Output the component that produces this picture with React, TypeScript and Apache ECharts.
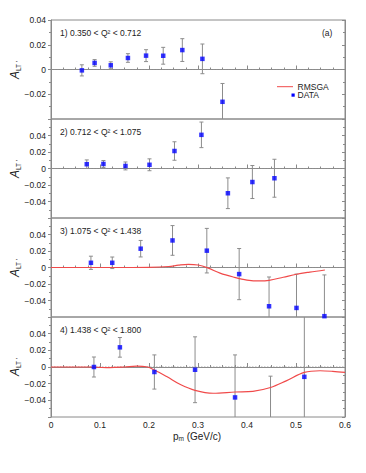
import React, { useEffect, useRef } from "react";
import * as echarts from "echarts";

// Panel 1: 0.350 < Q2 < 0.712
const p1x = [0.063, 0.089, 0.122, 0.157, 0.194, 0.229, 0.268, 0.309, 0.35];
const p1y = [-0.0007, 0.0053, 0.0034, 0.0093, 0.0112, 0.0111, 0.0157, 0.0086, -0.0261];
const p1e = [0.0045, 0.0027, 0.0028, 0.0035, 0.0048, 0.0068, 0.0092, 0.012, 0.0148];

// Panel 2: 0.712 < Q2 < 1.075
const p2x = [0.073, 0.107, 0.152, 0.201, 0.252, 0.307, 0.361, 0.411, 0.456];
const p2y = [0.0052, 0.0055, 0.0031, 0.0045, 0.0212, 0.0408, -0.03, -0.0164, -0.0118];
const p2e = [0.0052, 0.0042, 0.0048, 0.0072, 0.0112, 0.0155, 0.0186, 0.02, 0.023];

// Panel 3: 1.075 < Q2 < 1.438
const p3x = [0.0815, 0.125, 0.183, 0.248, 0.318, 0.384, 0.445, 0.501, 0.558];
const p3y = [0.0057, 0.0057, 0.0228, 0.0328, 0.0204, -0.008, -0.047, -0.049, -0.059];
const p3e = [0.008, 0.007, 0.01, 0.018, 0.027, 0.031, 0.0355, 0.041, 0.05];

// Panel 4: 1.438 < Q2 < 1.800
const p4x = [0.0876, 0.1406, 0.211, 0.294, 0.3756, 0.448, 0.517];
const p4y = [0.0, 0.0236, -0.006, -0.0033, -0.0365, -0.076, -0.0118];
const p4e = [0.012, 0.0118, 0.0205, 0.0395, 0.051, 0.065, 0.08];

// RMSGA curves
const c3x = [0, 0.05, 0.1, 0.15, 0.2, 0.24, 0.26, 0.28, 0.3, 0.32, 0.345, 0.372, 0.4, 0.427, 0.445, 0.474, 0.501, 0.528, 0.559];
const c3y = [0, 0, 0, 0, 0.0002, 0.0012, 0.0028, 0.0038, 0.003, -0.0005, -0.0068, -0.0115, -0.0152, -0.0163, -0.0155, -0.0118, -0.0082, -0.0056, -0.003];
const c4x = [0, 0.05, 0.08, 0.1, 0.12, 0.15, 0.175, 0.195, 0.211, 0.237, 0.264, 0.294, 0.331, 0.376, 0.412, 0.448, 0.48, 0.517, 0.549, 0.575, 0.6];
const c4y = [0, 0, 0, -0.0005, -0.0008, 0, 0.001, 0.0003, -0.0036, -0.0118, -0.021, -0.028, -0.0315, -0.03, -0.0292, -0.0246, -0.0166, -0.0065, -0.0045, -0.0052, -0.0065];

// zero reference line
const zeroX = [0, 0.6];
const zeroY = [0, 0];

const panelLabels = ["1) 0.350 < Q² < 0.712", "2) 0.712 < Q² < 1.075", "3) 1.075 < Q² < 1.438", "4) 1.438 < Q² < 1.800"];
const xTitle = "p";
const xTitleSub = "m";
const xTitleRest = " (GeV/c)";

const FONT = "Liberation Sans, Arial, Helvetica, sans-serif";
const AXIS = "#8a8a8a";
const TXT = "#222";

export default function App() {
  const ref = useRef<HTMLDivElement>(null);
  useEffect(() => {
    if (!ref.current) return;
    const chart = echarts.init(ref.current, null, { renderer: "svg" });
    const panels = [
      { x: p1x, y: p1y, e: p1e, ymin: -0.04, ymax: 0.04, cx: null as any, cy: null as any },
      { x: p2x, y: p2y, e: p2e, ymin: -0.06, ymax: 0.06, cx: null, cy: null },
      { x: p3x, y: p3y, e: p3e, ymin: -0.06, ymax: 0.06, cx: c3x, cy: c3y },
      { x: p4x, y: p4y, e: p4e, ymin: -0.06, ymax: 0.06, cx: c4x, cy: c4y },
    ];
    const tops = [20, 119, 218, 317];
    const H = 99;
    const grids: any[] = [];
    const xAxes: any[] = [];
    const yAxes: any[] = [];
    const series: any[] = [];
    const graphics: any[] = [];
    const yfmt = (v: number) => (Math.abs(v) < 1e-9 ? "0" : (v < 0 ? "\u2212" : "") + Math.abs(v).toFixed(2));
    panels.forEach((p, i) => {
      grids.push({ left: 51, width: 294, top: tops[i], height: i === 3 ? 100 : H, show: true, borderColor: AXIS, borderWidth: 1, containLabel: false });
      xAxes.push({
        type: "value", gridIndex: i, min: 0, max: 0.6, interval: 0.1,
        axisLine: { show: true, lineStyle: { color: AXIS } },
        axisTick: { show: true, inside: true, length: 4, lineStyle: { color: AXIS } },
        minorTick: { show: true, splitNumber: 4, length: 2, lineStyle: { color: AXIS } },
        splitLine: { show: false },
        axisLabel: { show: i === 3, margin: 3, fontSize: 8.5, color: TXT, fontFamily: FONT, formatter: (v: number) => (Math.abs(v) < 1e-9 ? "0" : v.toFixed(1)) },
      });
      yAxes.push({
        type: "value", gridIndex: i, min: p.ymin, max: p.ymax, interval: 0.02, position: "left",
        axisLine: { show: true, lineStyle: { color: AXIS } },
        axisTick: { show: true, inside: false, length: 3, lineStyle: { color: AXIS } },
        minorTick: { show: true, splitNumber: 2, length: 2, lineStyle: { color: AXIS } },
        splitLine: { show: false },
        axisLabel: { margin: 5, fontSize: 8.5, color: TXT, fontFamily: FONT, showMinLabel: false, showMaxLabel: i === 0, formatter: yfmt },
      });
      yAxes.push({
        type: "value", gridIndex: i, min: p.ymin, max: p.ymax, interval: 0.02, position: "right",
        axisLine: { show: true, lineStyle: { color: AXIS } },
        axisTick: { show: true, inside: true, length: 3, lineStyle: { color: AXIS } },
        minorTick: { show: true, splitNumber: 2, length: 2, lineStyle: { color: AXIS } },
        splitLine: { show: false },
        axisLabel: { show: false },
      });
      const yIdx = i * 2;
      series.push({
        type: "line", xAxisIndex: i, yAxisIndex: yIdx, z: 1, symbol: "none", silent: true,
        data: zeroX.map((xv, k) => [xv, zeroY[k]]),
        lineStyle: { type: [1.5, 1.5], color: "#8f8f8f", width: 0.8 },
      });
      series.push({
        type: "custom", xAxisIndex: i, yAxisIndex: yIdx, z: 2,
        data: p.x.map((xv, k) => [xv, p.y[k], p.e[k]]),
        renderItem: (params: any, api: any) => {
          const xv = api.value(0), yv = api.value(1), ev = api.value(2);
          const cs = params.coordSys;
          const t = api.coord([xv, yv + ev]);
          const b = api.coord([xv, yv - ev]);
          const top = Math.max(t[1], cs.y);
          const bot = Math.min(b[1], cs.y + cs.height);
          const cx = t[0];
          const st = { stroke: "#8c8c8c", lineWidth: 1 };
          const children: any[] = [];
          if (bot > top) children.push({ type: "line", shape: { x1: cx, y1: top, x2: cx, y2: bot }, style: st });
          if (t[1] >= cs.y) children.push({ type: "line", shape: { x1: cx - 2, y1: t[1], x2: cx + 2, y2: t[1] }, style: st });
          if (b[1] <= cs.y + cs.height) children.push({ type: "line", shape: { x1: cx - 2, y1: b[1], x2: cx + 2, y2: b[1] }, style: st });
          return { type: "group", children };
        },
      });
      if (p.cx) {
        series.push({
          type: "line", xAxisIndex: i, yAxisIndex: yIdx, z: 3, smooth: 0.35, symbol: "none",
          data: p.cx.map((xv: number, k: number) => [xv, p.cy[k]]),
          lineStyle: { color: "#f04a4a", width: 1.2 },
        });
      }
      series.push({
        type: "scatter", xAxisIndex: i, yAxisIndex: yIdx, z: 4, symbol: "rect", symbolSize: 4.5,
        data: p.x.map((xv, k) => [xv, p.y[k]]),
        itemStyle: { color: "#0000ff" },
      });
      graphics.push({
        type: "text", left: 60, top: tops[i] + 8,
        style: { text: panelLabels[i], fontSize: 8.5, fill: TXT, fontFamily: FONT },
      });
      graphics.push({
        type: "text", x: 15, y: tops[i] + 50, rotation: Math.PI / 2,
        style: {
          text: "{a|A}{s|LT '}", align: "center", verticalAlign: "middle", fill: TXT, fontFamily: FONT,
          rich: {
            a: { fontSize: 12, fontStyle: "italic", fontFamily: FONT, fill: TXT },
            s: { fontSize: 6.5, fontFamily: FONT, fill: TXT, padding: [6, 0, 0, 0] },
          },
        },
      });
    });
    graphics.push({ type: "text", left: 322, top: 28, style: { text: "(a)", fontSize: 8.5, fill: TXT, fontFamily: FONT } });
    graphics.push({ type: "line", shape: { x1: 277, y1: 86.7, x2: 293, y2: 86.7 }, style: { stroke: "#f04a4a", lineWidth: 1 } });
    graphics.push({ type: "text", left: 297.5, top: 82, style: { text: "RMSGA", fontSize: 8.5, fill: TXT, fontFamily: FONT } });
    graphics.push({ type: "rect", shape: { x: 291.5, y: 93.5, width: 3.2, height: 3.2 }, style: { fill: "#0000ff" } });
    graphics.push({ type: "text", left: 297.5, top: 90.5, style: { text: "DATA", fontSize: 8.5, fill: TXT, fontFamily: FONT } });
    graphics.push({
      type: "text", x: 197, y: 436,
      style: {
        text: `{p|${xTitle}}{s|${xTitleSub}}{p|${xTitleRest}}`, align: "center", verticalAlign: "middle", fontFamily: FONT, fill: TXT,
        rich: {
          p: { fontSize: 10, fontFamily: FONT, fill: TXT },
          s: { fontSize: 6.5, fontFamily: FONT, fill: TXT, padding: [5, 0, 0, 0] },
        },
      },
    });
    chart.setOption({
      animation: false,
      backgroundColor: "#fff",
      grid: grids,
      xAxis: xAxes,
      yAxis: yAxes,
      series,
      graphic: graphics,
    });
    return () => chart.dispose();
  }, []);
  return <div ref={ref} style={{ position: "fixed", left: 0, top: 0, width: 366, height: 473, background: "#fff" }} />;
}
